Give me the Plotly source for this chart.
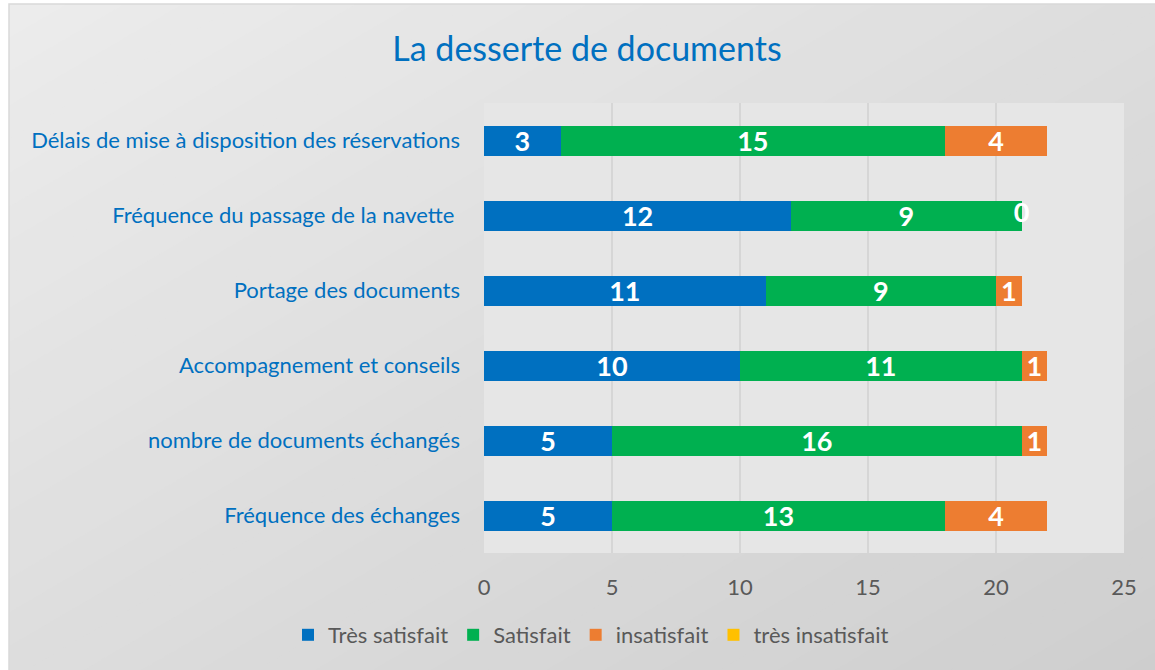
import plotly.graph_objects as go

categories = [
    "Délais de mise à disposition des réservations",
    "Fréquence du passage de la navette ",
    "Portage des documents",
    "Accompagnement et conseils",
    "nombre de documents échangés",
    "Fréquence des échanges",
]
series_names = ["Très satisfait", "Satisfait", "insatisfait", "très insatisfait"]
tres_satisfait = [3, 12, 11, 10, 5, 5]
satisfait = [15, 9, 9, 11, 16, 13]
insatisfait = [4, 0, 1, 1, 1, 4]
tres_insatisfait = [None, None, None, None, None, None]
x_ticks = [0, 5, 10, 15, 20, 25]

colors = ["#0070C0", "#00B050", "#ED7D31", "#FFC000"]
FONT = "Lato"
LABEL_FONT = dict(family=FONT, size=27, color="white", weight="bold")

W, H = 1155, 670
ML, MR, MT, MB = 484, 31, 103, 117
PW, PH = W - ML - MR, H - MT - MB

all_series = [tres_satisfait, satisfait, insatisfait, tres_insatisfait]

fig = go.Figure()
for name, vals, col in zip(series_names, all_series, colors):
    fig.add_trace(go.Bar(
        y=categories, x=vals, name=name, orientation="h",
        marker=dict(color=col, line=dict(width=0)),
        text=[("" if v is None else str(v)) for v in vals],
        textposition="inside", insidetextanchor="middle",
        constraintext="none", textangle=0,
        textfont=LABEL_FONT,
    ))

# labels for zero-length segments (drawn at the segment's stacked position)
zx, zy, zt = [], [], []
for ci, cat in enumerate(categories):
    base = 0
    for vals in all_series:
        v = vals[ci]
        if v is None:
            continue
        if v == 0:
            zx.append(base)
            zy.append(cat)
            zt.append(str(v))
        base += v
fig.add_trace(go.Scatter(x=zx, y=zy, text=zt, mode="text", textposition="middle center",
                         textfont=LABEL_FONT, showlegend=False, hoverinfo="skip",
                         cliponaxis=False))

# background frame with diagonal gradient (style only)
def px_to_paper(px, py):
    return (px - ML) / PW, 1 - (py - MT) / PH

fx0, fy0, fx1, fy1 = 9, 4, 1165, 680
shapes = []
N = 40
c_start, c_end = 236, 206
for i in range(N):
    c = i / N
    s = 2 * c
    if s <= 1:
        pts = [(s, 0), (1, 0), (1, 1), (0, 1), (0, s)]
    else:
        pts = [(1, s - 1), (1, 1), (s - 1, 1)]
    g = round(c_start + (c_end - c_start) * (i + 0.5) / N)
    path = ""
    for k, (u, v) in enumerate(pts):
        X, Y = px_to_paper(fx0 + u * (fx1 - fx0), fy0 + v * (fy1 - fy0))
        path += ("M" if k == 0 else "L") + f"{X:.5f},{Y:.5f} "
    path += "Z"
    shapes.append(dict(type="path", xref="paper", yref="paper", path=path,
                       fillcolor=f"rgb({g},{g},{g})", line=dict(width=0), layer="below"))
bx0, by0 = px_to_paper(fx0, fy0)
bx1, by1 = px_to_paper(fx1, fy1)
shapes.append(dict(type="rect", xref="paper", yref="paper", x0=bx0, y0=by1, x1=bx1, y1=by0,
                   line=dict(color="#d9d9d9", width=1.5), fillcolor="rgba(0,0,0,0)", layer="below"))
shapes.append(dict(type="rect", xref="paper", yref="paper", x0=0, y0=0, x1=1, y1=1,
                   fillcolor="#e6e6e6", line=dict(width=0), layer="below"))

fig.update_layout(
    width=W, height=H,
    margin=dict(l=ML, r=MR, t=MT, b=MB, pad=0),
    paper_bgcolor="white", plot_bgcolor="rgba(0,0,0,0)",
    barmode="stack", bargap=0.6,
    shapes=shapes,
    title=dict(text="La desserte de documents", x=587 / W, xanchor="center",
               y=1 - 49 / H, yanchor="middle", yref="container",
               font=dict(family=FONT, size=34, color="#0070C0")),
    xaxis=dict(range=[0, 25], tickvals=x_ticks, showgrid=True, gridcolor="#d6d6d6",
               gridwidth=1.5, zeroline=False, showline=False, ticks="",
               tickfont=dict(family=FONT, size=22, color="#595959"),
               ticklabelstandoff=19, fixedrange=True),
    yaxis=dict(autorange="reversed", showgrid=False, zeroline=False, showline=False,
               ticks="", tickfont=dict(family=FONT, size=22, color="#0070C0"),
               ticklabelstandoff=23),
    legend=dict(orientation="h", x=(591 - ML) / PW, xanchor="center",
                y=1 - (635 - MT) / PH, yanchor="middle", traceorder="normal",
                font=dict(family=FONT, size=22, color="#595959"),
                bgcolor="rgba(0,0,0,0)", itemwidth=30),
    showlegend=True,
)

fig.write_html("out.html", config={"displayModeBar": False},
               post_script="document.body.style.margin='0';document.body.style.overflow='hidden';")
